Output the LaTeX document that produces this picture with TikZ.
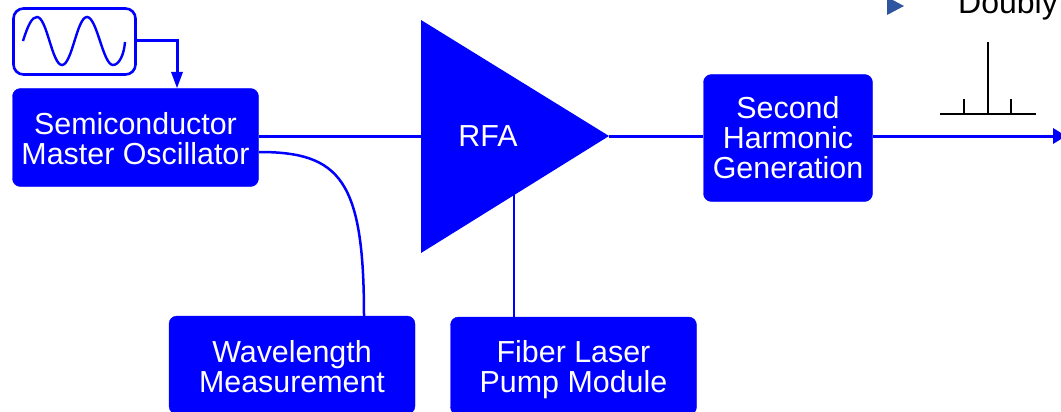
\documentclass[tikz,border=0pt]{standalone}
\usepackage{fontspec}
\setmainfont{Liberation Sans}
\definecolor{pblue}{RGB}{0,0,255}
\definecolor{bulletblue}{RGB}{47,84,160}
\tikzset{
  block/.style={fill=pblue,draw=pblue,rounded corners=8pt,inner sep=0pt},
  blocktext/.style={text=white,align=center,inner sep=0pt,font=\fontsize{30.4}{30}\selectfont},
  wire/.style={draw=pblue,line width=3pt},
  thinwire/.style={draw=pblue,line width=2.5pt},
  spec/.style={draw=black,line width=2.2pt}
}
\begin{document}
\begin{tikzpicture}[x=1pt,y=-1pt]
\useasboundingbox (0,0) rectangle (1061,412);
\clip (0,0) rectangle (1061,412);
% blocks
\node[block,minimum width=246pt,minimum height=98pt] (smo) at (135.5,137.5) {};
\node[draw=pblue,line width=2.6pt,rounded corners=10pt,minimum width=122pt,minimum height=66pt,inner sep=0pt] (wave) at (74.5,41.5) {};
\node[block,minimum width=246pt,minimum height=98pt] (wl) at (292,365) {};
\node[block,minimum width=246pt,minimum height=98pt] (fib) at (573.5,366) {};
\node[block,minimum width=169pt,minimum height=127pt] (shg) at (788,138) {};
\coordinate (rfatip) at (609,136);
\coordinate (rfain) at (421,136);
\coordinate (rfaunder) at (514,190);
\coordinate (wlin) at (364,316);
\coordinate (smoupper) at (259,136);
\coordinate (smolower) at (259,152);
\coordinate (waveout) at (136,41);
\coordinate (bend) at (177,72);
\coordinate (fibtop) at (514,317);
% wires
\draw[wire] (smoupper) -- (rfain);
\draw[wire] (rfatip) -- (shg.west |- rfatip);
\draw[thinwire] (smolower) .. controls (340,152) and (364,180) .. (wlin);
\draw[thinwire] (rfaunder) -- (fibtop);
\draw[wire] (shg.east |- rfatip) -- (1054,136);
\fill[pblue] (1053,128) -- (1066,136) -- (1053,144) -- cycle;
\draw[wire] (waveout) -| (bend);
\fill[pblue] (171,72) -- (183,72) -- (177,88) -- cycle;
% RFA
\fill[pblue] (421,20) -- (609,136) -- (421,253) -- cycle;
% texts
\node[blocktext] (rfa) at (488,136) {RFA};
\node[blocktext] (smot) at (135.5,139) {Semiconductor\\Master Oscillator};
\node[blocktext] (shgt) at (788,138) {Second\\Harmonic\\Generation};
\node[blocktext] (wlt) at (292,367) {Wavelength\\Measurement};
\node[blocktext] (fbt) at (573.5,370) {Fiber Laser\\Pump Module};
% sine
\draw[pblue,line width=2.4pt] (23,41) .. controls (28,25) and (32,17) .. (37,17)
  .. controls (47,17) and (52,65) .. (62,65)
  .. controls (72,65) and (77,17) .. (87,17)
  .. controls (97,17) and (103,65) .. (113,65)
  .. controls (119,65) and (124,55) .. (125,42);
% spectrum
\draw[spec] (940,114) -- (1036,114);
\draw[spec] (988,114) -- (988,42);
\draw[spec] (964,114) -- (964,99);
\draw[spec] (1011,114) -- (1011,99);
% header fragment
\fill[bulletblue] (887,-3) -- (904,6) -- (887,15) -- cycle;
\node[anchor=base west,inner sep=0pt,font=\fontsize{32}{32}\selectfont] (dbl) at (958,14) {Doubly};
\end{tikzpicture}
\end{document}
